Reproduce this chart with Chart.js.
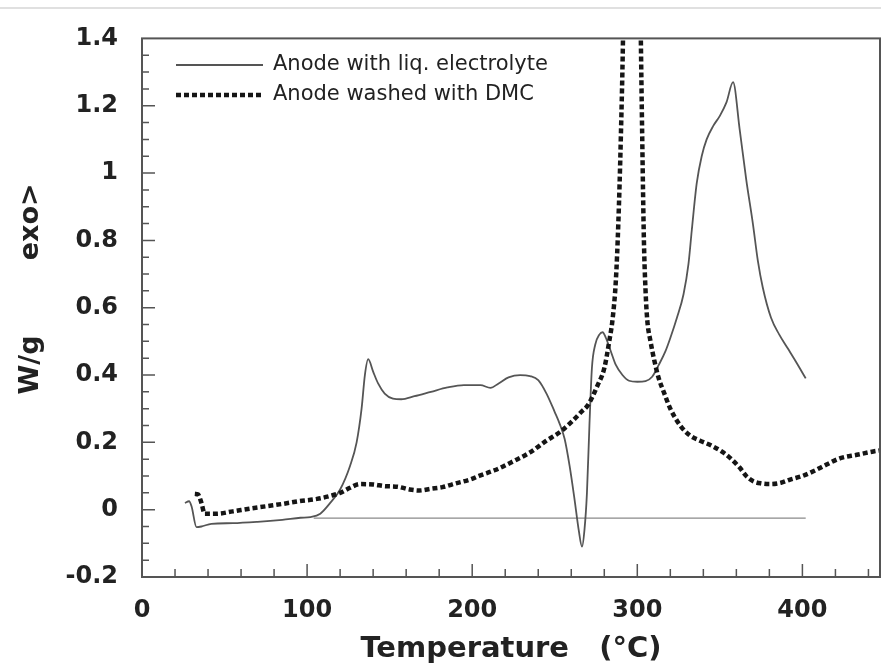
<!DOCTYPE html>
<html>
<head>
<meta charset="utf-8">
<script src="https://cdn.jsdelivr.net/npm/chart.js@4.4.1/dist/chart.umd.min.js"></script>
<style>
  html, body { margin: 0; padding: 0; background: #fff; }
</style>
</head>
<body>
<canvas id="dscChart" width="881" height="670"></canvas>
<script>
// Anode with liquid electrolyte (solid grey curve)
const solidTemp = [26, 28.5, 30, 33, 36, 42, 55, 70, 85, 96, 102, 108, 114, 120, 126, 130, 133, 135, 137,
  140, 143, 147, 152, 157, 165, 175, 185, 195, 205, 211, 216, 222, 229, 235, 240, 245, 250, 253, 256,
  259, 262, 264.5, 266.5, 268, 269.5, 271, 272.5, 274.5, 277, 279, 281, 284, 287, 291, 295, 300, 305,
  309, 313, 317, 320, 324, 328, 331, 333, 336, 339, 342, 346, 350, 354, 358, 362, 366, 370, 373, 376,
  381, 386, 391, 396, 402];
const solidHeat = [0.02, 0.025, 0.01, -0.052, -0.05, -0.042, -0.04, -0.036, -0.03, -0.024, -0.022, -0.012,
  0.02, 0.06, 0.13, 0.2, 0.3, 0.4, 0.447,
  0.41, 0.375, 0.345, 0.33, 0.328, 0.337, 0.35, 0.363, 0.37, 0.37, 0.362, 0.375, 0.393, 0.4, 0.397,
  0.385, 0.345, 0.29, 0.255, 0.21,
  0.13, 0.03, -0.06, -0.11, -0.06, 0.05, 0.25, 0.42, 0.49, 0.52, 0.527, 0.51, 0.47, 0.43, 0.4, 0.383,
  0.38, 0.382,
  0.395, 0.43, 0.47, 0.51, 0.57, 0.64, 0.73, 0.83, 0.97, 1.05, 1.1, 1.14, 1.17, 1.21, 1.27, 1.13, 0.98,
  0.85, 0.74, 0.66,
  0.57, 0.52, 0.48, 0.44, 0.39];

// Anode washed with DMC (black dotted curve)
const dmcTemp = [32, 34, 36, 38, 45, 55, 65, 75, 85, 95, 106, 115, 120, 126, 132, 140, 147, 155, 162, 168,
  175, 182, 190, 199, 205, 214, 225, 235, 245, 253, 260, 266, 270, 276, 280, 283, 285, 287, 288.5, 290,
  291.5, 294, 297, 300, 302, 303, 304, 305, 306, 308, 310, 313, 316, 320, 326, 332, 338, 345, 352, 357,
  362, 366, 370, 375, 381, 387, 393, 400, 407, 415, 423, 433, 443, 447];
const dmcHeat = [0.047, 0.045, 0.02, -0.012, -0.012, -0.005, 0.003, 0.01, 0.017, 0.025, 0.032, 0.042, 0.05,
  0.065, 0.076, 0.075, 0.07, 0.068, 0.06, 0.057,
  0.062, 0.067, 0.078, 0.09, 0.102, 0.118, 0.144, 0.17, 0.205, 0.23, 0.26, 0.29, 0.31, 0.37, 0.42, 0.5,
  0.565, 0.68, 0.85, 1.1,
  1.45, 2.5, 2.8, 2.2, 1.45, 1.1, 0.8, 0.65, 0.565, 0.5, 0.45, 0.39, 0.35, 0.3, 0.25, 0.22, 0.205, 0.19,
  0.17, 0.15,
  0.125, 0.1, 0.085, 0.078, 0.076, 0.08, 0.09, 0.1, 0.115, 0.135, 0.153, 0.163, 0.173, 0.176];

// integration baseline under the liquid-electrolyte curve
const baseTemp = [104, 402];
const baseHeat = [-0.025, -0.025];

const xTickValues = [0, 100, 200, 300, 400];
const yTickValues = [-0.2, 0, 0.2, 0.4, 0.6, 0.8, 1, 1.2, 1.4];

const toPoints = (xs, ys) => xs.map((x, i) => ({ x: x, y: ys[i] }));

// box frame, inward tick marks, legend inside the plot and the faint scan line
const framePlugin = {
  id: 'framePlugin',
  beforeDraw(chart) {
    const ctx = chart.ctx;
    ctx.save();
    ctx.strokeStyle = '#d6d6d6';
    ctx.lineWidth = 1.5;
    ctx.beginPath();
    ctx.moveTo(0, 8);
    ctx.lineTo(chart.width, 8);
    ctx.stroke();
    ctx.restore();
  },
  afterDatasetsDraw(chart) {
    const { ctx, chartArea: a, scales: { x, y } } = chart;
    ctx.save();
    ctx.strokeStyle = '#555';
    ctx.lineWidth = 2;
    ctx.strokeRect(a.left, a.top, a.right - a.left, a.bottom - a.top);

    ctx.lineWidth = 1.5;
    ctx.beginPath();
    for (let i = 1; i * 20 < x.max; i++) {
      const px = x.getPixelForValue(i * 20);
      const len = i % 5 === 0 ? 13 : 8;
      ctx.moveTo(px, a.bottom);
      ctx.lineTo(px, a.bottom - len);
    }
    for (let i = 1; i < 32; i++) {
      const py = y.getPixelForValue(-0.2 + i * 0.05);
      const len = i % 4 === 0 ? 13 : 7;
      ctx.moveTo(a.left, py);
      ctx.lineTo(a.left + len, py);
    }
    ctx.stroke();

    // legend
    const rows = [65, 95];
    ctx.font = '21px "DejaVu Sans"';
    ctx.textBaseline = 'middle';
    ctx.textAlign = 'left';
    rows.forEach((ry, i) => {
      const ds = chart.data.datasets[i];
      ctx.strokeStyle = ds.borderColor;
      ctx.lineWidth = ds.borderWidth;
      ctx.setLineDash(ds.borderDash || []);
      ctx.beginPath();
      ctx.moveTo(176, ry);
      ctx.lineTo(263, ry);
      ctx.stroke();
      ctx.setLineDash([]);
      ctx.fillStyle = '#222';
      ctx.fillText(ds.label, 273, ry);
    });
    ctx.restore();
  }
};

new Chart(document.getElementById('dscChart'), {
  type: 'line',
  data: {
    datasets: [
      {
        label: 'Anode with liq. electrolyte',
        data: toPoints(solidTemp, solidHeat),
        borderColor: '#555555',
        borderWidth: 1.8,
        pointRadius: 0,
        cubicInterpolationMode: 'monotone',
        order: 2
      },
      {
        label: 'Anode washed with DMC',
        data: toPoints(dmcTemp, dmcHeat),
        borderColor: '#151515',
        borderWidth: 4.5,
        borderDash: [5, 3],
        pointRadius: 0,
        cubicInterpolationMode: 'monotone',
        order: 1
      },
      {
        label: 'baseline',
        data: toPoints(baseTemp, baseHeat),
        borderColor: '#8a8a8a',
        borderWidth: 1.2,
        pointRadius: 0,
        order: 3
      }
    ]
  },
  options: {
    responsive: false,
    animation: false,
    layout: { padding: { top: 33, right: 1, left: 15, bottom: 0 } },
    plugins: {
      legend: { display: false },
      tooltip: { enabled: false }
    },
    scales: {
      x: {
        type: 'linear',
        min: 0,
        max: 447,
        grid: { display: false, drawTicks: false },
        border: { display: false },
        afterBuildTicks: (scale) => { scale.ticks = xTickValues.map(v => ({ value: v })); },
        afterFit: (scale) => { scale.height = 93; },
        ticks: {
          padding: 19,
          color: '#222',
          font: { family: '"DejaVu Sans"', size: 24, weight: 'bold' }
        },
        title: {
          display: true,
          text: 'Temperature   (°C)',
          color: '#222',
          padding: { top: 0, bottom: 3 },
          font: { family: '"DejaVu Sans"', size: 29, weight: 'bold' }
        }
      },
      y: {
        type: 'linear',
        min: -0.2,
        max: 1.4,
        grid: { display: false, drawTicks: false },
        border: { display: false },
        afterBuildTicks: (scale) => { scale.ticks = yTickValues.map(v => ({ value: v })); },
        afterFit: (scale) => { scale.width = 127; },
        ticks: {
          padding: 24,
          color: '#222',
          font: { family: '"DejaVu Sans"', size: 24, weight: 'bold' },
          callback: (v) => String(Math.round(v * 10) / 10)
        },
        title: {
          display: true,
          text: '    W/g        exo>',
          color: '#222',
          padding: { top: 0, bottom: 0 },
          font: { family: '"DejaVu Sans"', size: 27, weight: 'bold' }
        }
      }
    }
  },
  plugins: [framePlugin]
});
</script>
</body>
</html>
